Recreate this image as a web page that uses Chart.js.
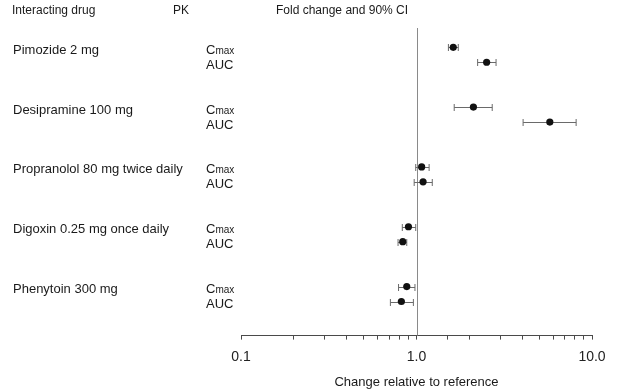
<!DOCTYPE html>
<html>
<head>
<meta charset="utf-8">
<script src="https://cdn.jsdelivr.net/npm/chart.js@4.4.1/dist/chart.umd.min.js"></script>
<style>
  html, body { margin: 0; padding: 0; background: #ffffff; }
  #wrap { width: 623px; height: 392px; position: relative; }
</style>
</head>
<body>
<div id="wrap"><canvas id="c"></canvas></div>
<script>
// ---- Data ----
const drugs = [
  'Pimozide 2 mg',
  'Desipramine 100 mg',
  'Propranolol 80 mg twice daily',
  'Digoxin 0.25 mg once daily',
  'Phenytoin 300 mg'
];
const pkParams = ['Cmax', 'AUC'];
const cmaxRatio = [1.62, 2.11, 1.07, 0.90, 0.88];
const cmaxLow   = [1.52, 1.64, 0.99, 0.83, 0.79];
const cmaxHigh  = [1.73, 2.70, 1.18, 0.99, 0.98];
const aucRatio  = [2.51, 5.75, 1.09, 0.835, 0.82];
const aucLow    = [2.23, 4.05, 0.97, 0.785, 0.71];
const aucHigh   = [2.84, 8.12, 1.23, 0.88, 0.96];
const xTickLabels = ['0.1', '1.0', '10.0'];
const headers = ['Interacting drug', 'PK', 'Fold change and 90% CI'];
const xTitle = 'Change relative to reference';

// ---- Build points: row index = group*4 + param offset ----
const points = [];
drugs.forEach((d, i) => {
  points.push({ x: cmaxRatio[i], y: i * 4,     lo: cmaxLow[i], hi: cmaxHigh[i] });
  points.push({ x: aucRatio[i],  y: i * 4 + 1, lo: aucLow[i],  hi: aucHigh[i] });
});

const FONT = '"Liberation Sans", Arial, sans-serif';

const overlay = {
  id: 'overlay',
  beforeDatasetsDraw(chart) {
    const { ctx, chartArea, scales } = chart;
    const xs = scales.x, ys = scales.y;
    ctx.save();
    // reference line at 1.0
    const x1 = Math.round(xs.getPixelForValue(1)) + 0.5;
    ctx.strokeStyle = '#8a8a8a';
    ctx.lineWidth = 1;
    ctx.beginPath();
    ctx.moveTo(x1, chartArea.top);
    ctx.lineTo(x1, chartArea.bottom);
    ctx.stroke();
    // error bars
    ctx.strokeStyle = '#6a6a6a';
    points.forEach(p => {
      const y = Math.round(ys.getPixelForValue(p.y)) + 0.5;
      const xl = xs.getPixelForValue(p.lo), xh = xs.getPixelForValue(p.hi);
      ctx.beginPath();
      ctx.moveTo(xl, y); ctx.lineTo(xh, y);
      ctx.moveTo(xl, y - 3.5); ctx.lineTo(xl, y + 3.5);
      ctx.moveTo(xh, y - 3.5); ctx.lineTo(xh, y + 3.5);
      ctx.stroke();
    });
    ctx.restore();
  },
  afterDraw(chart) {
    const { ctx, scales } = chart;
    const ys = scales.y;
    ctx.save();
    ctx.fillStyle = '#1a1a1a';
    ctx.textBaseline = 'alphabetic';
    ctx.textAlign = 'left';
    // headers
    ctx.font = '12px ' + FONT;
    ctx.fillText(headers[0], 12, 14);
    ctx.fillText(headers[1], 173, 14);
    ctx.fillText(headers[2], 276, 14);
    // drug labels and PK labels
    drugs.forEach((d, i) => {
      const yC = ys.getPixelForValue(i * 4) + 6.5;
      const yA = ys.getPixelForValue(i * 4 + 1) + 6.5;
      ctx.font = '13px ' + FONT;
      ctx.fillText(d, 13, yC);
      // Cmax with small "max"
      ctx.fillText(pkParams[0].charAt(0), 206, yC);
      const w = ctx.measureText(pkParams[0].charAt(0)).width;
      ctx.font = '10px ' + FONT;
      ctx.fillText(pkParams[0].slice(1), 206 + w, yC);
      ctx.font = '13px ' + FONT;
      ctx.fillText(pkParams[1], 206, yA);
    });
    ctx.restore();
  }
};

new Chart(document.getElementById('c'), {
  type: 'scatter',
  data: {
    datasets: [{
      data: points,
      pointRadius: 3.6,
      pointHoverRadius: 3.6,
      pointBackgroundColor: '#111111',
      pointBorderColor: '#111111',
      pointBorderWidth: 0
    }]
  },
  options: {
    responsive: true,
    maintainAspectRatio: false,
    animation: false,
    events: [],
    layout: { padding: { left: 241, right: 31, top: 28, bottom: 0 } },
    plugins: { legend: { display: false }, tooltip: { enabled: false } },
    scales: {
      x: {
        type: 'logarithmic',
        min: 0.1,
        max: 10,
        border: { display: true, color: '#4a4a4a', width: 1 },
        grid: { drawOnChartArea: false, drawTicks: true, tickLength: 4, tickColor: '#4a4a4a' },
        ticks: {
          autoSkip: false,
          maxRotation: 0,
          padding: 9,
          color: '#222222',
          font: { family: FONT, size: 14 },
          callback: (v) => {
            const l = Math.log10(v);
            if (Math.abs(l - Math.round(l)) < 1e-9) {
              return xTickLabels[Math.round(l) + 1];
            }
            return '';
          }
        },
        title: {
          display: true,
          text: xTitle,
          color: '#1a1a1a',
          font: { family: FONT, size: 13 },
          padding: { top: 0, bottom: 2 }
        }
      },
      y: {
        type: 'linear',
        display: false,
        reverse: true,
        min: -1.29,
        max: 19.28
      }
    }
  },
  plugins: [overlay]
});
</script>
</body>
</html>
